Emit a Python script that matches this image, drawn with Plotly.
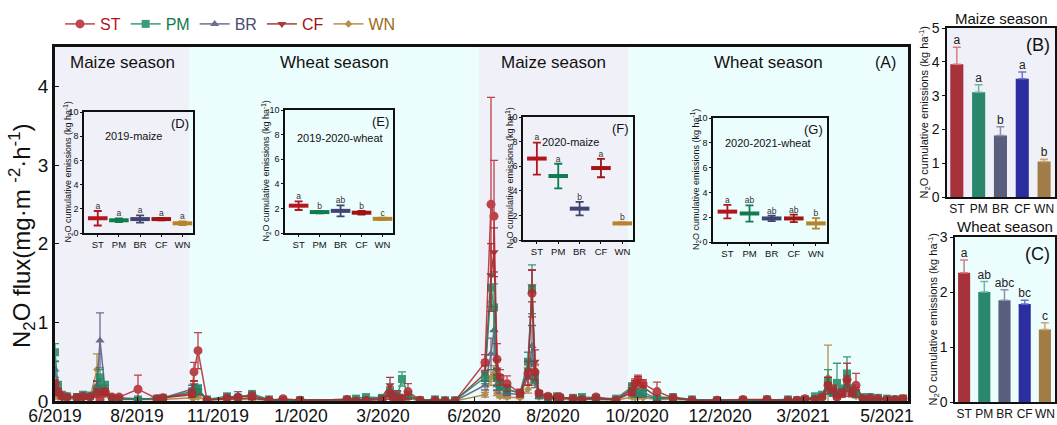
import plotly.graph_objects as go

W, H = 1057, 425

# ---------------- data ----------------
treatments = ["ST", "PM", "BR", "CF", "WN"]

tick_pos = [55, 137, 218, 301, 383, 474, 553, 637, 720, 803, 887]
tick_labels = ["6/2019", "8/2019", "11/2019", "1/2020", "3/2020", "6/2020",
               "8/2020", "10/2020", "12/2020", "3/2021", "5/2021"]

season_bounds = [55, 189, 479, 628, 908]
season_names = ["Maize season", "Wheat season", "Maize season", "Wheat season"]

day = [55, 58, 62, 67, 77, 83, 90, 97, 100, 105, 112, 119, 138, 157, 163,
       192, 194, 198, 207, 227, 238, 252, 269, 283, 300, 347, 356, 366, 382,
       390, 393, 397, 402, 408, 420, 435, 445, 455, 485, 491, 494, 497, 500,
       507, 520, 528, 532, 535, 539, 548, 557, 560, 573, 582, 596, 616, 632,
       635, 638, 643, 657, 673, 692, 717, 743, 767, 788, 797, 805, 815, 822,
       828, 833, 837, 842, 847, 852, 856, 863, 870, 878, 887, 895, 903]

flux_ST = [.22, .12, .06, .05, .04, .06, .05, .10, .02, .12, .05, .05, .15, .03, .04,
           .10, .37, .64, .01, .04, .05, .07, .01, .03, .01, .02, .00, .01, .02,
           .10, .05, .04, .03, .12, .01, .01, .00, .00, .49, 2.50, 2.35, .53, .30,
           .22, .10, .35, 1.37, .37, .10, .06, .05, .05, .03, .02, .05, .01, .12,
           .22, .27, .22, .12, .04, .01, .01, .02, .02, .01, .01, .03, .02, .05,
           .20, .15, .05, .10, .27, .12, .20, .03, .04, .03, .02, .02, .03]
err_ST = [.05, .04, .02, .02, .05, .03, .02, .05, .02, .04, .02, .02, .18, .02, .02,
          .05, .12, .23, .01, .02, .02, .03, .01, .01, .01, .01, .01, .01, .01,
          .08, .03, .02, .02, .10, .01, .01, .01, .01, .10, 1.36, .71, .20, .10,
          .10, .05, .15, .30, .10, .03, .02, .02, .02, .01, .01, .02, .01, .05,
          .06, .06, .05, .12, .02, .01, .01, .01, .01, .01, .01, .01, .02, .03,
          .10, .05, .03, .05, .21, .05, .15, .02, .02, .01, .01, .01, .04]

flux_PM = [.62, .20, .08, .06, .05, .08, .07, .12, .30, .20, .04, .03, .02, .03, .04,
           .12, .10, .15, .02, .06, .04, .09, .02, .01, .01, .02, .03, .05, .04,
           .12, .06, .05, .28, .08, .01, .02, .01, .01, .30, 1.44, 1.19, .30, .20,
           .15, .10, .50, 1.42, .30, .08, .05, .06, .04, .04, .05, .04, .03, .18,
           .10, .12, .11, .03, .05, .02, .01, .01, .02, .02, .01, .02, .06, .08,
           .24, .12, .23, .15, .35, .15, .10, .05, .05, .04, .03, .02, .03]
err_PM = [.11, .05, .02, .02, .02, .03, .02, .04, .10, .05, .02, .01, .01, .01, .01,
          .04, .03, .05, .01, .02, .02, .03, .01, .01, .01, .01, .01, .02, .01,
          .04, .02, .02, .09, .03, .01, .01, .01, .01, .08, .18, .30, .10, .05,
          .05, .03, .12, .31, .08, .03, .02, .02, .01, .01, .02, .01, .01, .05,
          .03, .04, .03, .01, .02, .01, .01, .01, .01, .01, .01, .01, .02, .03,
          .16, .05, .25, .05, .21, .05, .03, .02, .02, .01, .01, .01, .01]

flux_BR = [.40, .12, .06, .05, .04, .05, .06, .20, .77, .15, .05, .04, .03, .03, .04,
           .15, .13, .15, .02, .04, .07, .05, .01, .01, .01, .02, .02, .02, .03,
           .08, .05, .04, .05, .06, .01, .01, .01, .00, .20, .60, .90, .20, .15,
           .10, .08, .30, .70, .25, .05, .04, .04, .04, .03, .03, .03, .02, .10,
           .08, .08, .07, .03, .04, .01, .01, .01, .01, .01, .01, .02, .03, .05,
           .15, .10, .08, .12, .20, .12, .08, .04, .04, .03, .02, .02, .02]
err_BR = [.10, .04, .02, .02, .01, .02, .02, .06, .35, .05, .02, .01, .01, .01, .01,
          .05, .04, .05, .01, .02, .05, .02, .01, .01, .01, .01, .01, .01, .01,
          .03, .02, .01, .02, .02, .01, .01, .01, .01, .06, .20, .30, .06, .05,
          .03, .02, .10, .26, .08, .02, .01, .01, .01, .01, .01, .01, .01, .03,
          .03, .03, .02, .01, .01, .01, .01, .01, .01, .01, .01, .01, .01, .02,
          .06, .04, .03, .04, .08, .04, .03, .01, .01, .01, .01, .01, .01]

flux_CF = [.15, .10, .05, .06, .05, .04, .05, .15, .12, .10, .03, .03, .02, .03, .04,
           .08, .20, .12, .02, .03, .03, .04, .01, .01, .01, .02, .02, .02, .05,
           .20, .08, .10, .05, .06, .01, .01, .01, .00, .35, 1.60, 1.89, .40, .25,
           .15, .10, .40, 1.46, .50, .10, .05, .04, .04, .03, .03, .03, .02, .15,
           .20, .25, .18, .05, .04, .01, .01, .01, .01, .01, .01, .02, .04, .06,
           .22, .12, .10, .10, .25, .10, .12, .03, .03, .03, .02, .02, .03]
err_CF = [.05, .03, .02, .02, .02, .01, .02, .10, .04, .03, .01, .01, .01, .01, .01,
          .03, .06, .04, .01, .01, .01, .02, .01, .01, .01, .01, .01, .01, .02,
          .10, .03, .03, .02, .02, .01, .01, .01, .01, .10, .40, .31, .12, .08,
          .05, .03, .12, .20, .15, .03, .02, .01, .01, .01, .01, .01, .01, .05,
          .06, .06, .05, .02, .01, .01, .01, .01, .01, .01, .01, .01, .01, .02,
          .08, .04, .03, .03, .08, .03, .05, .01, .01, .01, .01, .01, .01]

flux_WN = [.06, .05, .04, .03, .03, .03, .04, .40, .20, .08, .03, .02, .02, .02, .02,
           .04, .04, .05, .01, .02, .02, .02, .01, .01, .01, .01, .01, .01, .02,
           .05, .03, .03, .03, .03, .01, .01, .01, .00, .08, .30, .35, .10, .06,
           .05, .04, .15, .30, .35, .05, .03, .03, .02, .02, .02, .02, .01, .05,
           .04, .05, .04, .02, .02, .01, .01, .01, .01, .01, .01, .01, .02, .04,
           .30, .10, .05, .08, .20, .08, .06, .02, .02, .02, .01, .01, .01]
err_WN = [.03, .02, .01, .01, .01, .01, .01, .20, .08, .03, .01, .01, .01, .01, .01,
          .01, .01, .02, .01, .01, .01, .01, .01, .01, .01, .01, .01, .01, .01,
          .02, .01, .01, .01, .01, .01, .01, .01, .01, .03, .10, .10, .03, .02,
          .02, .01, .05, .10, .10, .02, .01, .01, .01, .01, .01, .01, .01, .02,
          .01, .02, .01, .01, .01, .01, .01, .01, .01, .01, .01, .01, .01, .01,
          .41, .03, .02, .03, .06, .03, .02, .01, .01, .01, .01, .01, .01]

# inset panels: seasonal cumulative emissions (mean, SD, letters)
inset_titles = ["2019-maize", "2019-2020-wheat", "2020-maize", "2020-2021-wheat"]
inset_tags = ["(D)", "(E)", "(F)", "(G)"]
cum_2019_maize = [1.22, 1.05, 1.15, 1.15, 0.80]
sd_2019_maize = [0.60, 0.15, 0.30, 0.10, 0.15]
sig_2019_maize = ["a", "a", "a", "a", "a"]
cum_2019_wheat = [2.22, 1.70, 1.80, 1.65, 1.15]
sd_2019_wheat = [0.35, 0.10, 0.45, 0.15, 0.10]
sig_2019_wheat = ["a", "b", "ab", "b", "c"]
cum_2020_maize = [6.62, 5.20, 2.55, 5.85, 1.35]
sd_2020_maize = [1.30, 1.00, 0.55, 0.75, 0.08]
sig_2020_maize = ["a", "a", "b", "a", "b"]
cum_2020_wheat = [2.45, 2.30, 1.90, 1.90, 1.50]
sd_2020_wheat = [0.55, 0.65, 0.22, 0.30, 0.42]
sig_2020_wheat = ["a", "ab", "ab", "ab", "b"]

# side panels: mean cumulative emissions per season type
maize_cum = [3.93, 3.10, 1.82, 3.50, 1.05]
maize_sd = [0.50, 0.22, 0.26, 0.20, 0.07]
maize_sig = ["a", "a", "b", "a", "b"]
wheat_cum = [2.35, 2.00, 1.85, 1.78, 1.32]
wheat_sd = [0.23, 0.19, 0.19, 0.07, 0.12]
wheat_sig = ["a", "ab", "abc", "bc", "c"]

# ---------------- styling ----------------
FONT = "Arial, Liberation Sans, sans-serif"
line_col = {"ST": "#b3262d", "PM": "#1d8a62", "BR": "#535879", "CF": "#981b1e", "WN": "#a97d2c"}
legend_col = {"ST": "#b5121b", "PM": "#0f7a4d", "BR": "#4a4d6e", "CF": "#a01212", "WN": "#9c6a18"}
symbols = {"ST": "circle", "PM": "square", "BR": "triangle-up", "CF": "triangle-down", "WN": "diamond"}
msize = {"ST": 9, "PM": 8, "BR": 8, "CF": 8, "WN": 6}
inset_col = ["#b3161f", "#117a4f", "#3f4470", "#a01414", "#b5842a"]
bar_col = ["#a8323b", "#2b876b", "#595e7c", "#2b2e9e", "#a27c46"]
bar_err_col = ["#d77c86", "#6fb79e", "#8c90a8", "#6f73c8", "#c9a676"]
MAIZE_BG = "#f0f0f8"
WHEAT_BG = "#ecfdfd"


def xd(p):
    return p / W


def yd(p):
    return 1 - p / H


def label(x, y, text, size, xref="paper", yref="paper", angle=0, **kw):
    d = dict(xref=xref, yref=yref, x=x, y=y, text=text, showarrow=False,
             xanchor="center", yanchor="middle", textangle=angle,
             font=dict(size=size, color="#111", family=FONT))
    d.update(kw)
    return d


flux = {"ST": flux_ST, "PM": flux_PM, "BR": flux_BR, "CF": flux_CF, "WN": flux_WN}
errs = {"ST": err_ST, "PM": err_PM, "BR": err_BR, "CF": err_CF, "WN": err_WN}

fig = go.Figure()

# ---- main time series (ST drawn last so it sits on top) ----
for rank, t in reversed(list(enumerate(treatments))):
    c = line_col[t]
    fig.add_trace(go.Scatter(
        x=day, y=flux[t], mode="lines+markers",
        name=f'<span style="color:{legend_col[t]}">{t}</span>',
        legendrank=rank + 1,
        line=dict(color=c, width=1.5),
        marker=dict(symbol=symbols[t], size=msize[t], color=c),
        error_y=dict(type="data", array=errs[t], color=c, thickness=1.3, width=4),
        opacity=0.85, xaxis="x", yaxis="y",
    ))

annotations = []
shapes = []

# season background bands
for i, name in enumerate(season_names):
    shapes.append(dict(type="rect", xref="x", yref="y domain",
                       x0=season_bounds[i], x1=season_bounds[i + 1], y0=0, y1=1,
                       fillcolor=MAIZE_BG if "Maize" in name else WHEAT_BG,
                       line=dict(width=0), layer="below"))
    annotations.append(label((season_bounds[i] + season_bounds[i + 1]) / 2, yd(63),
                             name, 17, xref="x"))
annotations.append(label(xd(885), yd(63), "(A)", 16))
annotations.append(label(xd(22), yd(236),
                         "N<sub>2</sub>O flux(mg·m <sup>-2</sup>·h<sup>-1</sup>)", 24, angle=-90))

layout_axes = {}
layout_axes["xaxis"] = dict(domain=[xd(55), xd(908)], range=[55, 908],
                            tickvals=tick_pos, ticktext=tick_labels, tickangle=0,
                            ticklabelstandoff=-3,
                            showline=True, mirror=True, linecolor="#111", linewidth=2.5,
                            ticks="inside", ticklen=4, tickcolor="#111",
                            tickfont=dict(size=17.5, color="#111", family=FONT),
                            showgrid=False, zeroline=False, anchor="y", automargin=False)
layout_axes["yaxis"] = dict(domain=[yd(401), yd(47)], range=[0, 4.5],
                            tickvals=[0, 1, 2, 3, 4],
                            showline=True, mirror=True, linecolor="#111", linewidth=2.5,
                            ticks="inside", ticklen=4, tickcolor="#111",
                            tickfont=dict(size=19, color="#111", family=FONT),
                            showgrid=False, zeroline=False, anchor="x", automargin=False)

YT_CUM = "N<sub>2</sub>O cumulative emissions (kg ha<sup>-1</sup>)"

# ---- inset panels D-G ----
inset_sets = [
    (cum_2019_maize, sd_2019_maize, sig_2019_maize),
    (cum_2019_wheat, sd_2019_wheat, sig_2019_wheat),
    (cum_2020_maize, sd_2020_maize, sig_2020_maize),
    (cum_2020_wheat, sd_2020_wheat, sig_2020_wheat),
]
inset_box = [(84, 193, 112, 233), (285, 393, 110, 233), (523, 633, 117, 240), (713, 827, 118, 242)]
inset_title_pos = [(0.45, 0.80), (0.51, 0.77), (0.43, 0.80), (0.48, 0.80)]
inset_ytitle_x = [68, 266, 510, 695]

for k, (means, sds, sig) in enumerate(inset_sets):
    n = k + 2
    xa, ya = f"x{n}", f"y{n}"
    x0, x1, y0, y1 = inset_box[k]
    for i, t in enumerate(treatments):
        fig.add_trace(go.Scatter(
            x=[t], y=[means[i]], mode="markers", showlegend=False,
            marker=dict(symbol="line-ew", size=14, line=dict(width=4, color=inset_col[i])),
            error_y=dict(type="data", array=[sds[i]], color=inset_col[i], thickness=1.8, width=4),
            xaxis=xa, yaxis=ya,
        ))
    fig.add_trace(go.Scatter(
        x=treatments, y=[m + s for m, s in zip(means, sds)], mode="text",
        text=sig, textposition="top center", showlegend=False,
        textfont=dict(size=8.5, color="#333", family=FONT), xaxis=xa, yaxis=ya,
    ))
    layout_axes[f"xaxis{n}"] = dict(domain=[xd(x0), xd(x1)], range=[-0.65, 4.5],
                                    type="category", categoryorder="array", categoryarray=treatments,
                                    tickangle=0,
                                    showline=True, mirror=True, linecolor="#111", linewidth=1.5,
                                    ticks="outside", ticklen=2, tickcolor="#111",
                                    tickfont=dict(size=9.5, color="#111", family=FONT),
                                    showgrid=False, zeroline=False, anchor=ya, automargin=False)
    layout_axes[f"yaxis{n}"] = dict(domain=[yd(y1), yd(y0)], range=[0, 10],
                                    tickvals=[0, 2, 4, 6, 8, 10],
                                    showline=True, mirror=True, linecolor="#111", linewidth=1.5,
                                    ticks="outside", ticklen=2, tickcolor="#111",
                                    tickfont=dict(size=9, color="#111", family=FONT),
                                    showgrid=False, zeroline=False, anchor=xa, automargin=False)
    tx, ty = inset_title_pos[k]
    annotations.append(label(tx, ty, inset_titles[k], 11,
                             xref=f"{xa} domain", yref=f"{ya} domain"))
    annotations.append(label(0.98, 0.98, inset_tags[k], 13,
                             xref=f"{xa} domain", yref=f"{ya} domain",
                             xanchor="right", yanchor="top"))
    annotations.append(label(xd(inset_ytitle_x[k]), yd((y0 + y1) / 2), YT_CUM, 9, angle=-90))

# ---- side bar panels B and C ----
side_sets = [
    (6, maize_cum, maize_sd, maize_sig, "Maize season", "(B)", (947, 1055, 28, 197), [0, 5], MAIZE_BG, 925),
    (7, wheat_cum, wheat_sd, wheat_sig, "Wheat season", "(C)", (955, 1055, 237, 402), [0, 3], WHEAT_BG, 933),
]
for n, vals, sds, sig, title, tag, box, yr, bg, ytx in side_sets:
    xa, ya = f"x{n}", f"y{n}"
    x0, x1, y0, y1 = box
    # each bar as its own trace so its error bar can take a matching tint
    for i, t in enumerate(treatments):
        fig.add_trace(go.Bar(
            x=[t], y=[vals[i]], width=0.6, showlegend=False,
            marker=dict(color=bar_col[i], line=dict(width=0)),
            error_y=dict(type="data", array=[sds[i]], arrayminus=[0], symmetric=False,
                         color=bar_err_col[i], thickness=1.5, width=4),
            xaxis=xa, yaxis=ya,
        ))
    fig.add_trace(go.Scatter(
        x=treatments, y=[v + s for v, s in zip(vals, sds)], mode="text",
        text=sig, textposition="top center", showlegend=False,
        textfont=dict(size=12, color="#222", family=FONT), xaxis=xa, yaxis=ya,
    ))
    shapes.append(dict(type="rect", xref=f"{xa} domain", yref=f"{ya} domain",
                       x0=0, x1=1, y0=0, y1=1, fillcolor=bg, line=dict(width=0), layer="below"))
    layout_axes[f"xaxis{n}"] = dict(domain=[xd(x0), xd(x1)], range=[-0.45, 4.5],
                                    type="category", categoryorder="array", categoryarray=treatments,
                                    tickangle=0,
                                    showline=True, mirror=True, linecolor="#111", linewidth=1.5,
                                    ticks="", tickfont=dict(size=12, color="#111", family=FONT),
                                    showgrid=False, zeroline=False, anchor=ya, automargin=False)
    layout_axes[f"yaxis{n}"] = dict(domain=[yd(y1), yd(y0)], range=yr, dtick=1,
                                    showline=True, mirror=True, linecolor="#111", linewidth=1.5,
                                    ticks="outside", ticklen=3, tickcolor="#111",
                                    tickfont=dict(size=14, color="#111", family=FONT),
                                    showgrid=False, zeroline=False, anchor=xa, automargin=False)
    annotations.append(label(0.5, yd(y0 - 10), title, 15, xref=f"{xa} domain"))
    annotations.append(label(0.97, 0.97, tag, 18, xref=f"{xa} domain", yref=f"{ya} domain",
                             xanchor="right", yanchor="top"))
    annotations.append(label(xd(ytx), yd((y0 + y1) / 2), YT_CUM, 11, angle=-90))

fig.update_layout(
    width=W, height=H, margin=dict(l=0, r=0, t=0, b=0, autoexpand=False),
    paper_bgcolor="white", plot_bgcolor="rgba(0,0,0,0)",
    font=dict(family=FONT, color="#111"),
    showlegend=True, barmode="overlay",
    legend=dict(orientation="h", x=xd(60), y=yd(24), xanchor="left", yanchor="middle",
                font=dict(size=16, family=FONT), bgcolor="rgba(0,0,0,0)",
                itemclick=False),
    annotations=annotations, shapes=shapes,
    **layout_axes,
)

fig.write_html("out.html")
